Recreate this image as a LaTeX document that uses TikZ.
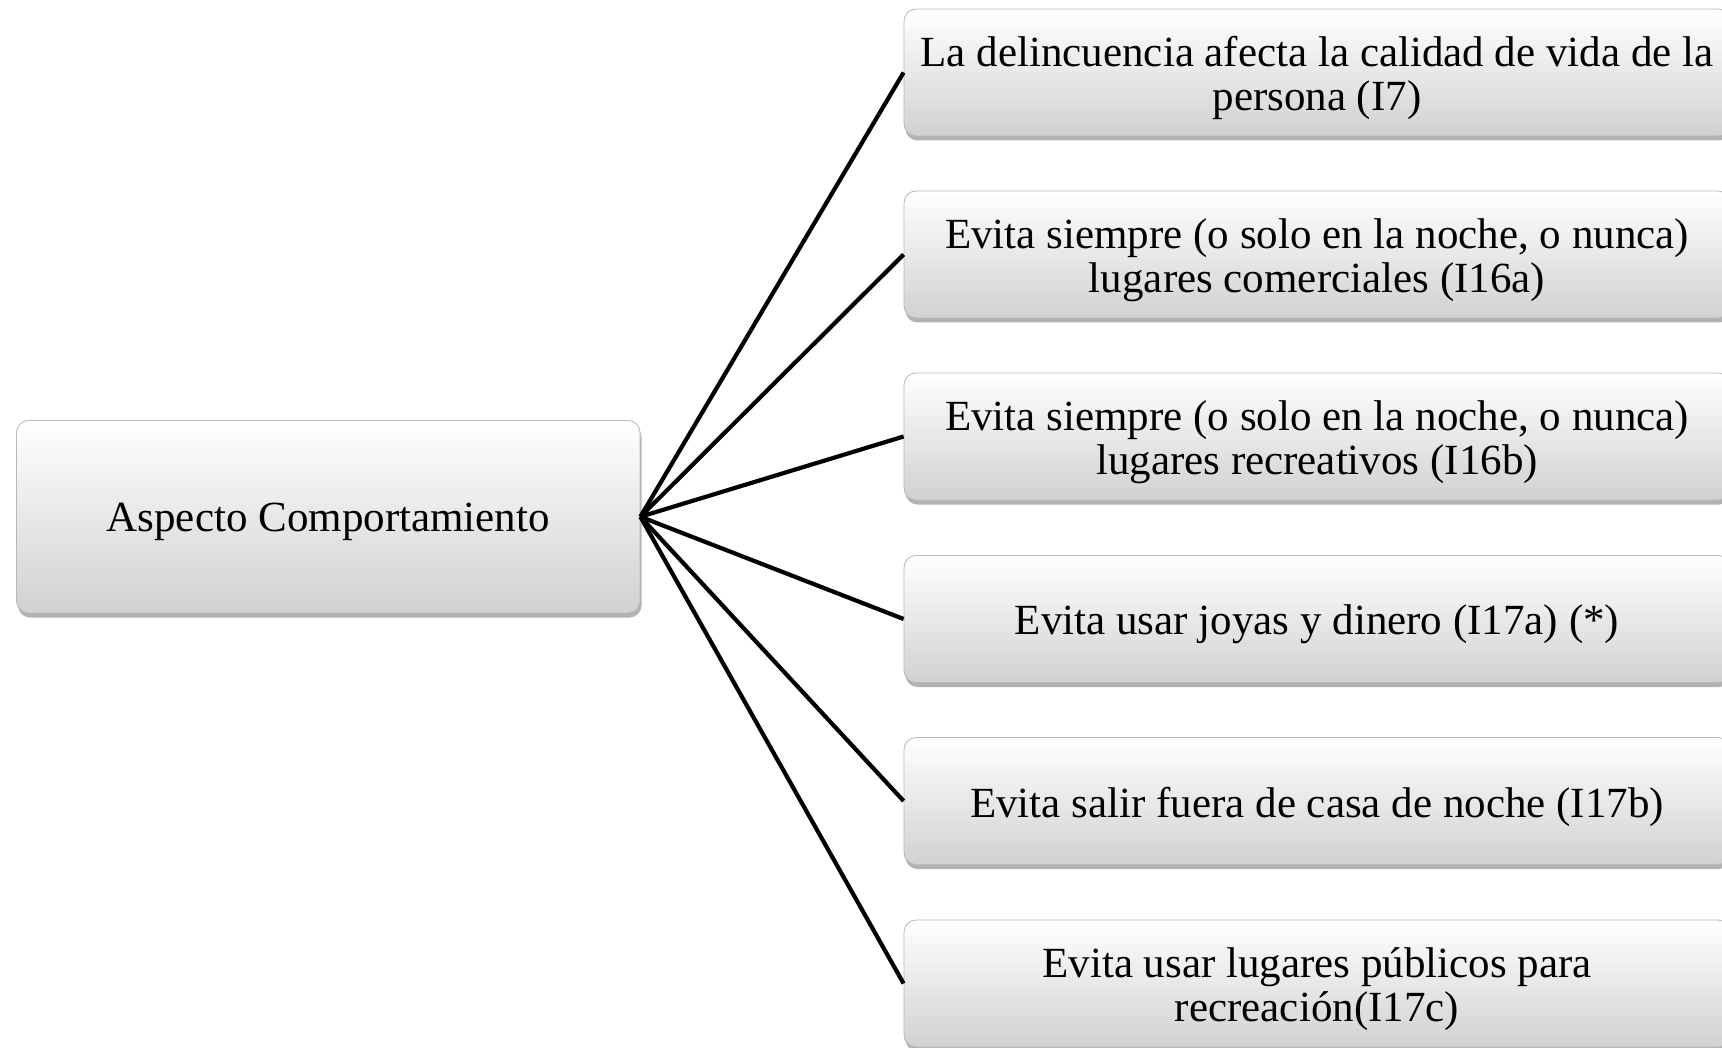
\documentclass[tikz,border=0pt]{standalone}
\usepackage{fontspec}
\setmainfont{Liberation Serif}
\usetikzlibrary{shadows}
\tikzset{
  box/.style={rounded corners=12pt, draw=black!28, line width=0.8pt,
    top color=white, bottom color=black!18,
    drop shadow={shadow xshift=1.5pt, shadow yshift=-4.5pt, opacity=0.5, fill=black!60},
    inner sep=0pt},
  leftbox/.style={box, minimum width=623.5pt, minimum height=192.5pt},
  rightbox/.style={box, minimum width=826pt, minimum height=127pt},
  txt/.style={font=\fontsize{43}{44}\selectfont, align=center, inner sep=0pt, yshift=-5.5pt},
  conn/.style={line width=4.2pt, black}
}
\begin{document}
\begin{tikzpicture}[x=1pt,y=-1pt]
\useasboundingbox (0,0) rectangle (1722,1048);
\clip (0,0) rectangle (1722,1048);
\node[leftbox] (L) at (328.25,516.75) {};
\node[rightbox] (R1) at (1317,72.5) {};
\node[rightbox] (R2) at (1317,254.5) {};
\node[rightbox] (R3) at (1317,436.5) {};
\node[rightbox] (R4) at (1317,619) {};
\node[rightbox] (R5) at (1317,801) {};
\node[rightbox] (R6) at (1317,983.5) {};
\node[txt] (Lt) at (L.center) {Aspecto Comportamiento};
\node[txt] (R1t) at (R1.center) {La delincuencia afecta la calidad de vida de la\\persona (I7)};
\node[txt] (R2t) at (R2.center) {Evita siempre (o solo en la noche, o nunca)\\lugares comerciales (I16a)};
\node[txt] (R3t) at (R3.center) {Evita siempre (o solo en la noche, o nunca)\\lugares recreativos (I16b)};
\node[txt] (R4t) at (R4.center) {Evita usar joyas y dinero (I17a) (*)};
\node[txt] (R5t) at (R5.center) {Evita salir fuera de casa de noche (I17b)};
\node[txt] (R6t) at (R6.center) {Evita usar lugares públicos para\\recreación(I17c)};
\foreach \r in {R1,R2,R3,R4,R5,R6}
  \draw[conn] (L.east) -- (\r.west);
\end{tikzpicture}
\end{document}
